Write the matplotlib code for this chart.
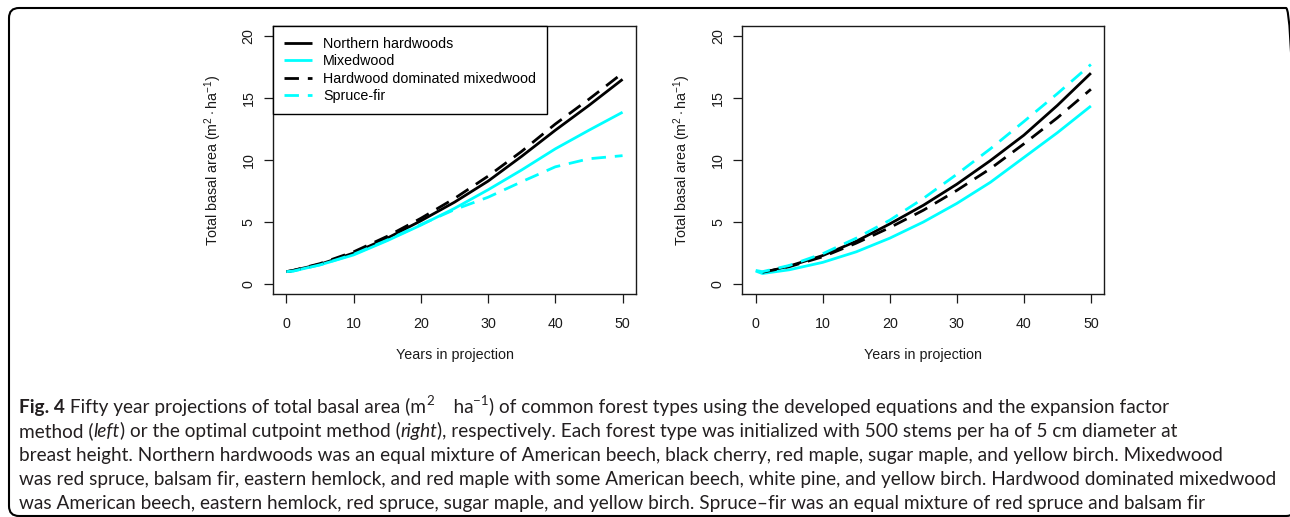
import numpy as np
import matplotlib
matplotlib.use("Agg")
import matplotlib.pyplot as plt
from matplotlib.patches import FancyBboxPatch

# ---------------- data ----------------
years = [0, 1, 5, 10, 15, 20, 25, 30, 35, 40, 45, 50]

# left panel: expansion factor method
nh_left = [1.0, 1.1, 1.6, 2.5, 3.7, 5.1, 6.6, 8.3, 10.3, 12.4, 14.4, 16.5]
mw_left = [1.0, 1.05, 1.55, 2.35, 3.5, 4.75, 6.1, 7.6, 9.2, 10.9, 12.4, 13.85]
hdm_left = [1.0, 1.1, 1.65, 2.6, 3.85, 5.3, 6.9, 8.7, 10.7, 12.9, 14.9, 17.0]
sf_left = [1.0, 1.05, 1.55, 2.4, 3.55, 4.8, 6.0, 7.0, 8.25, 9.45, 10.1, 10.35]

# right panel: optimal cutpoint method
nh_right = [np.nan, 0.9, 1.45, 2.3, 3.45, 4.85, 6.35, 8.05, 9.95, 12.0, 14.4, 17.0]
mw_right = [1.05, 0.85, 1.15, 1.75, 2.6, 3.7, 5.0, 6.5, 8.2, 10.2, 12.2, 14.35]
hdm_right = [np.nan, 0.95, 1.4, 2.2, 3.3, 4.55, 5.95, 7.55, 9.3, 11.3, 13.4, 15.7]
sf_right = [1.1, 1.0, 1.5, 2.45, 3.7, 5.15, 6.9, 8.85, 10.9, 13.1, 15.35, 17.7]

series_names = ["Northern hardwoods", "Mixedwood",
                "Hardwood dominated mixedwood", "Spruce-fir"]
x_ticks = [0, 10, 20, 30, 40, 50]
y_ticks = [0, 5, 10, 15, 20]
x_label = "Years in projection"
y_label = r"Total basal area (m$^{2}\cdot$ha$^{-1}$)"

caption_lines = [
    [("Fig. 4", "bold"),
     (" Fifty year projections of total basal area (m", "rm"),
     ("2", "sup"),
     ("    ha", "rm"),
     ("\u22121", "sup"),
     (") of common forest types using the developed equations and the expansion factor", "rm")],
    [("method (", "rm"), ("left", "it"), (") or the optimal cutpoint method (", "rm"),
     ("right", "it"),
     ("), respectively. Each forest type was initialized with 500 stems per ha of 5 cm diameter at", "rm")],
    [("breast height. Northern hardwoods was an equal mixture of American beech, black cherry, red maple, sugar maple, and yellow birch. Mixedwood", "rm")],
    [("was red spruce, balsam fir, eastern hemlock, and red maple with some American beech, white pine, and yellow birch. Hardwood dominated mixedwood", "rm")],
    [("was American beech, eastern hemlock, red spruce, sugar maple, and yellow birch. Spruce\u2013fir was an equal mixture of red spruce and balsam fir", "rm")],
]

# ---------------- styling ----------------
plt.rcParams["font.family"] = ["Liberation Sans", "DejaVu Sans"]
plt.rcParams["mathtext.fontset"] = "custom"
plt.rcParams["mathtext.rm"] = "Liberation Sans"
plt.rcParams["mathtext.it"] = "Liberation Sans:italic"
plt.rcParams["mathtext.bf"] = "Liberation Sans:bold"

W, H = 1290, 517
fig = plt.figure(figsize=(W / 100, H / 100), dpi=100)
fig.patch.set_facecolor("white")

colors = ["black", "#00FFFF", "black", "#00FFFF"]
dash = (0, (5.2, 3.2))
lstyles = ["-", "-", dash, dash]
FS = 10.3
AXC = "#1a1a1a"


def px_axes(l, t, r, b):
    return fig.add_axes([l / W, 1 - b / H, (r - l) / W, (b - t) / H])


ax1 = px_axes(273, 26, 636, 294)
ax2 = px_axes(742.3, 26, 1104.3, 294)

panels = [(ax1, [nh_left, mw_left, hdm_left, sf_left]),
          (ax2, [nh_right, mw_right, hdm_right, sf_right])]

for ax, data in panels:
    for name, vals, c, ls in zip(series_names, data, colors, lstyles):
        ax.plot(years, vals, color=c, lw=2.0, linestyle=ls, label=name,
                solid_capstyle="butt", dash_capstyle="butt")
    ax.set_xlim(-2, 52)
    ax.set_ylim(-0.8, 20.8)
    ax.set_xticks(x_ticks)
    ax.set_yticks(y_ticks)
    ax.tick_params(direction="out", length=6.5, width=0.9, labelsize=FS,
                   colors=AXC)
    ax.tick_params(axis="x", pad=10)
    ax.tick_params(axis="y", pad=6, labelrotation=90)
    for lab in ax.get_yticklabels():
        lab.set_va("center")
    for sp in ax.spines.values():
        sp.set_linewidth(1.0)
        sp.set_color(AXC)
    bbox = ax.get_position()
    wpx = bbox.width * W
    hpx = bbox.height * H
    ax.set_xlabel(x_label, fontsize=FS, color=AXC)
    ax.xaxis.label.set_va("center")
    ax.xaxis.set_label_coords(0.5, -61 / hpx)
    ax.set_ylabel(y_label, fontsize=FS, color=AXC)
    ax.yaxis.label.set_va("center")
    ax.yaxis.set_label_coords(-60 / wpx, 0.5)

leg = ax1.legend(loc="upper left", bbox_to_anchor=(0, 1), borderaxespad=0,
                 frameon=True, fancybox=False, edgecolor="black", framealpha=1,
                 fontsize=FS, handlelength=2.0, handletextpad=0.75,
                 labelspacing=0.25, borderpad=0.75)
leg.get_frame().set_linewidth(1.0)

# ---------------- outer frame ----------------
frame = FancyBboxPatch((0.09, 0.01), 12.87, 5.08,
                       boxstyle="round,pad=0,rounding_size=0.1",
                       transform=fig.dpi_scale_trans, fill=False,
                       edgecolor="black", linewidth=1.5)
fig.add_artist(frame)

# ---------------- caption ----------------
cap_family = ["Lato", "DejaVu Sans"]
renderer = fig.canvas.get_renderer()


def measure(text, size, weight="normal", style="normal"):
    t = fig.text(0, 0, text + "|", fontsize=size, family=cap_family,
                 weight=weight, style=style)
    w1 = t.get_window_extent(renderer).width
    t.set_text("|")
    w0 = t.get_window_extent(renderer).width
    t.remove()
    return w1 - w0


def run_props(kind, size):
    s = size * (0.7 if kind == "sup" else 1.0)
    dy = size * 0.42 * 100 / 72 if kind == "sup" else 0
    weight = "bold" if kind == "bold" else "normal"
    style = "italic" if kind == "it" else "normal"
    return s, dy, weight, style


def line_width(runs, size):
    tot = 0
    for text, kind in runs:
        s, dy, w, st = run_props(kind, size)
        tot += measure(text, s, w, st)
    return tot


base = 12.0
widest = max(line_width(r, base) for r in caption_lines)
cap_size = base * 1256 / widest


def draw_line(runs, y_base_px, x0=19):
    x = x0
    for text, kind in runs:
        s, dy, weight, style = run_props(kind, cap_size)
        fig.text(x / W, 1 - (y_base_px - dy) / H, text, fontsize=s,
                 family=cap_family, weight=weight, style=style,
                 ha="left", va="baseline", color="#231f20")
        x += measure(text, s, weight, style)


baselines = [413, 437, 461, 485, 509]
for runs, yb in zip(caption_lines, baselines):
    draw_line(runs, yb)

fig.savefig("out.png", dpi=100)
